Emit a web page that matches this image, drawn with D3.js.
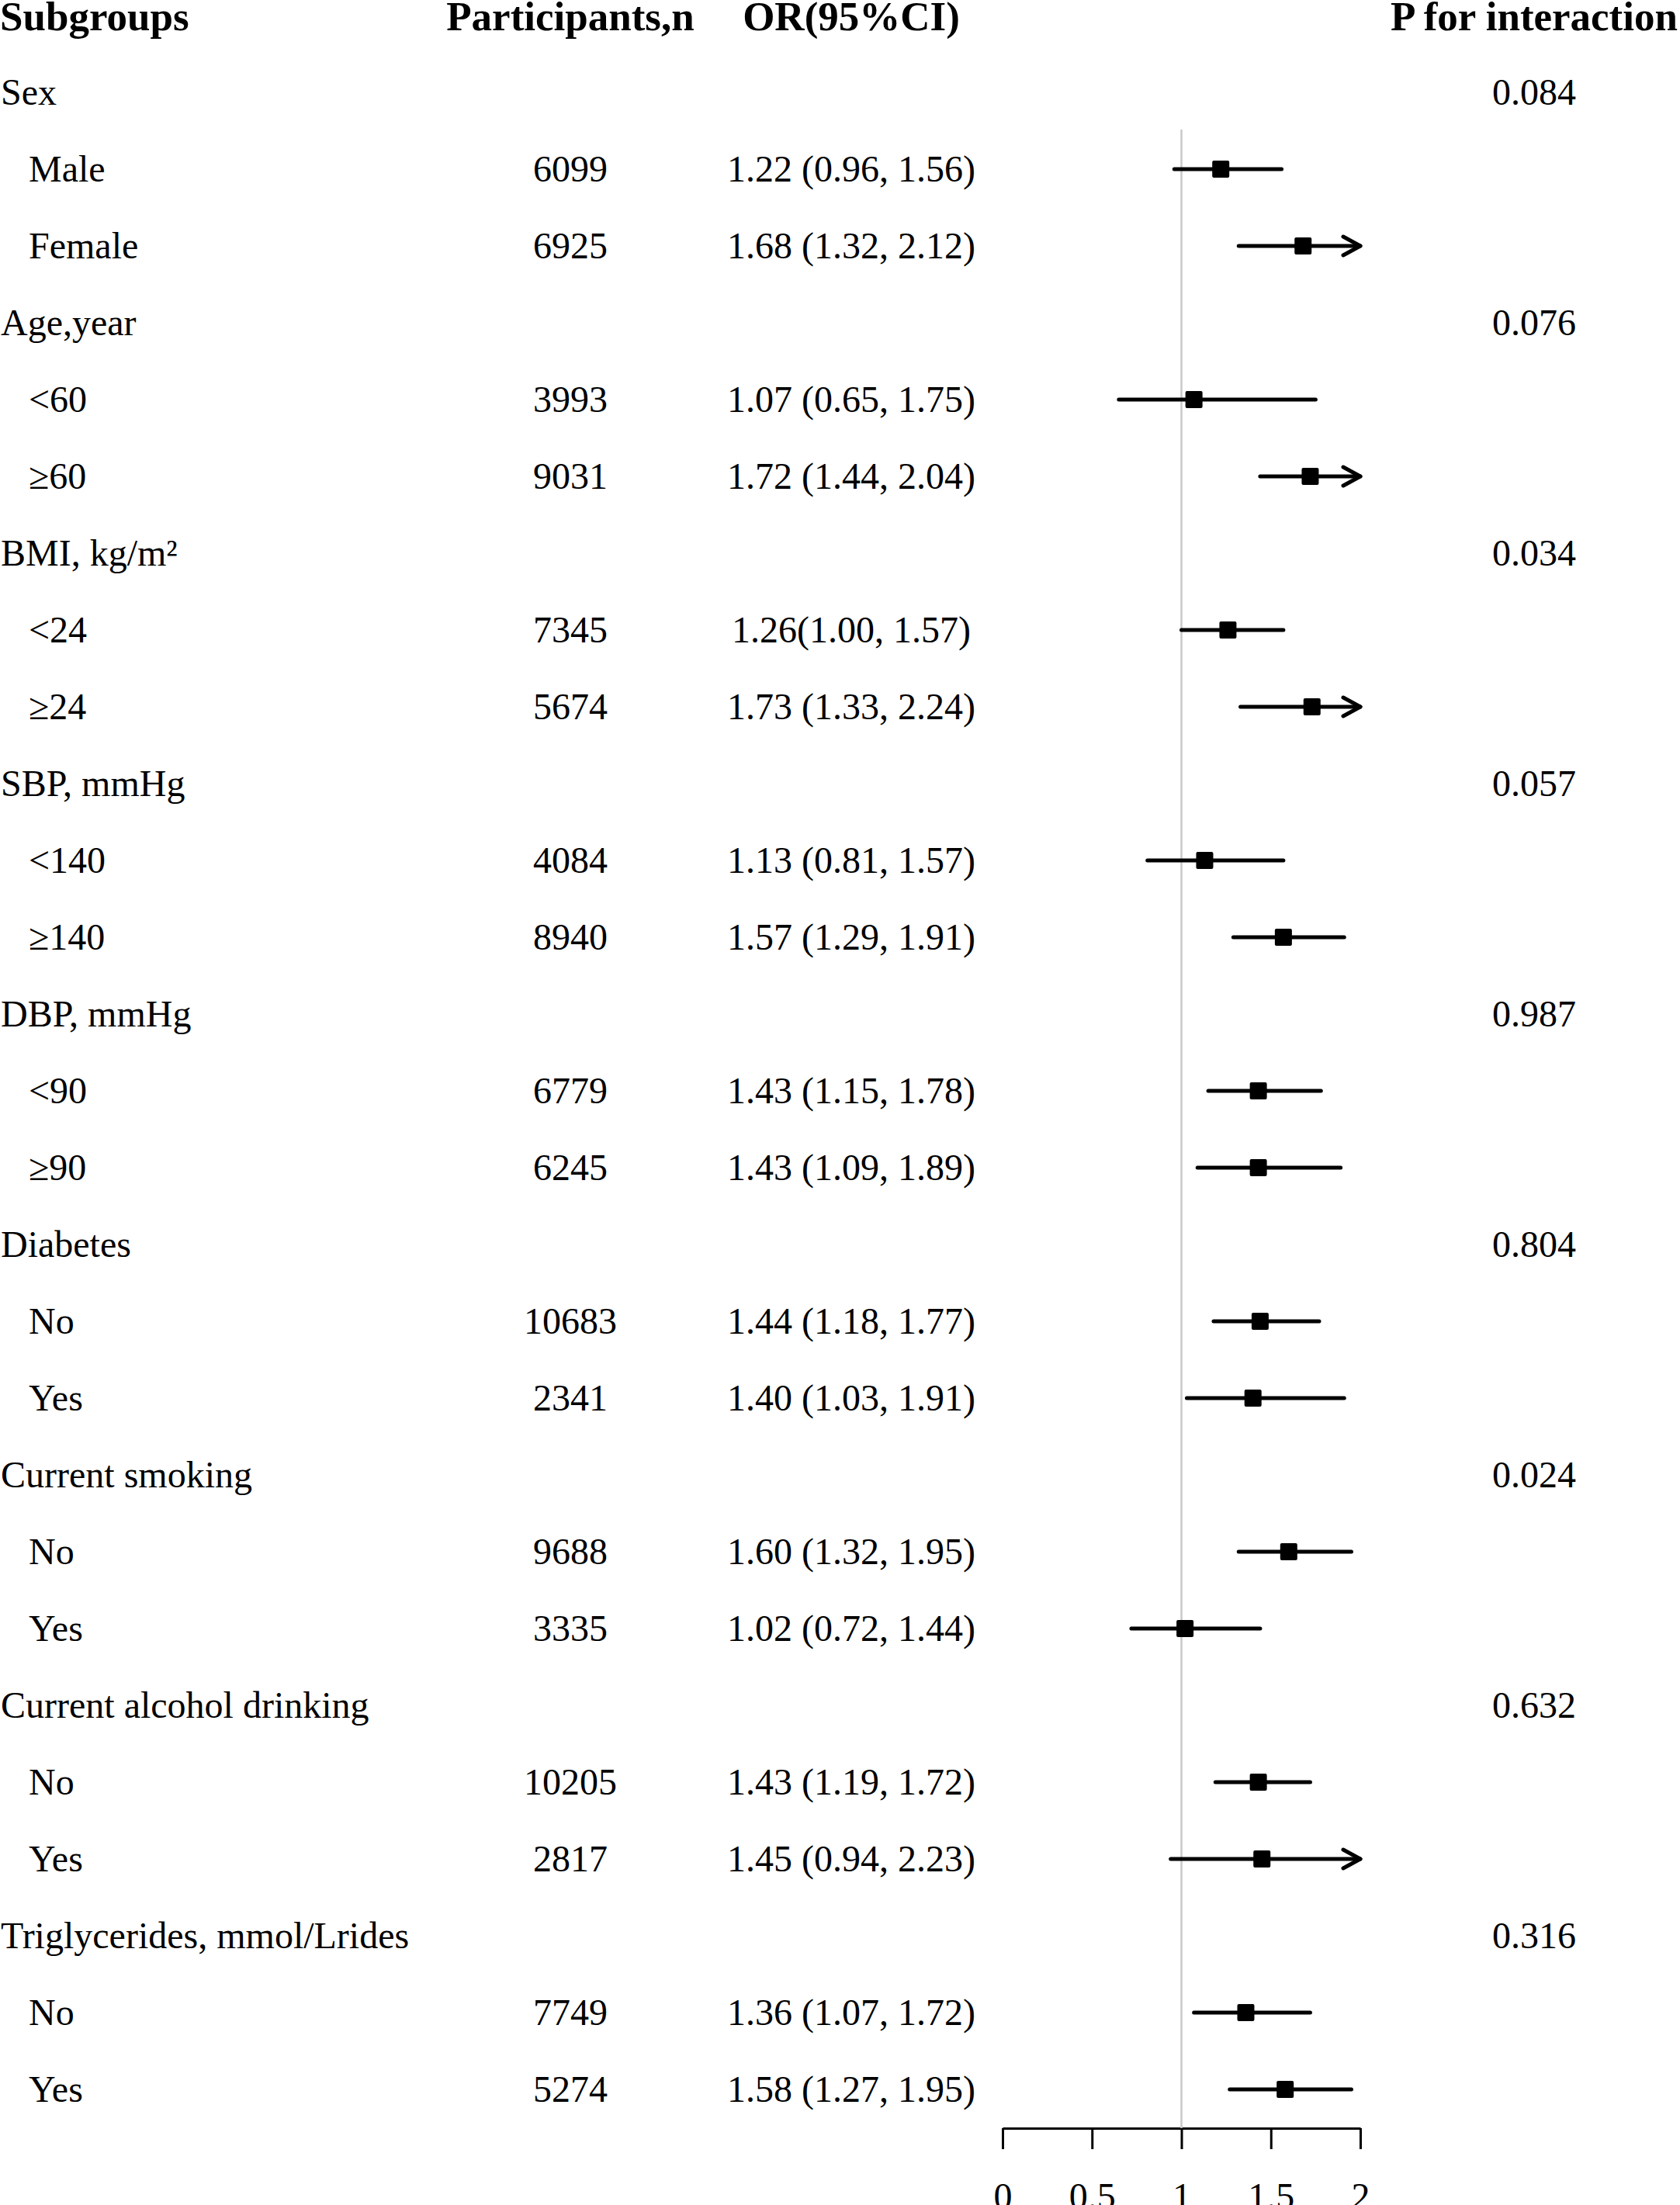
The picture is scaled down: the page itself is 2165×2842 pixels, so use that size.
<!DOCTYPE html>
<html>
<head>
<meta charset="utf-8">
<script src="https://cdn.jsdelivr.net/npm/d3@7"></script>
<style>
  html, body { margin: 0; padding: 0; background: #fff; }
  svg { display: block; }
  text { font-family: 'Liberation Serif', 'Times New Roman', serif; fill: #000; }
</style>
</head>
<body>
<div id="chart"></div>
<script>
// ── Subgroup forest plot ──
// Rows with a p-value are group headers, the rest are subgroups with an OR and CI.

const rowLabels = [
  'Sex', 'Male', 'Female',
  'Age,year', '<60', '≥60',
  'BMI, kg/m²', '<24', '≥24',
  'SBP, mmHg', '<140', '≥140',
  'DBP, mmHg', '<90', '≥90',
  'Diabetes', 'No', 'Yes',
  'Current smoking', 'No', 'Yes',
  'Current alcohol drinking', 'No', 'Yes',
  'Triglycerides, mmol/Lrides', 'No', 'Yes',
]

const participants = [
  null, 6099, 6925,
  null, 3993, 9031,
  null, 7345, 5674,
  null, 4084, 8940,
  null, 6779, 6245,
  null, 10683, 2341,
  null, 9688, 3335,
  null, 10205, 2817,
  null, 7749, 5274,
]

const orText = [
  null, '1.22 (0.96, 1.56)', '1.68 (1.32, 2.12)',
  null, '1.07 (0.65, 1.75)', '1.72 (1.44, 2.04)',
  null, '1.26(1.00, 1.57)', '1.73 (1.33, 2.24)',
  null, '1.13 (0.81, 1.57)', '1.57 (1.29, 1.91)',
  null, '1.43 (1.15, 1.78)', '1.43 (1.09, 1.89)',
  null, '1.44 (1.18, 1.77)', '1.40 (1.03, 1.91)',
  null, '1.60 (1.32, 1.95)', '1.02 (0.72, 1.44)',
  null, '1.43 (1.19, 1.72)', '1.45 (0.94, 2.23)',
  null, '1.36 (1.07, 1.72)', '1.58 (1.27, 1.95)',
]

const orEst = [
  null, 1.22, 1.68, null, 1.07, 1.72, null, 1.26, 1.73,
  null, 1.13, 1.57, null, 1.43, 1.43, null, 1.44, 1.40,
  null, 1.60, 1.02, null, 1.43, 1.45, null, 1.36, 1.58,
]
const ciLow = [
  null, 0.96, 1.32, null, 0.65, 1.44, null, 1.00, 1.33,
  null, 0.81, 1.29, null, 1.15, 1.09, null, 1.18, 1.03,
  null, 1.32, 0.72, null, 1.19, 0.94, null, 1.07, 1.27,
]
const ciHigh = [
  null, 1.56, 2.12, null, 1.75, 2.04, null, 1.57, 2.24,
  null, 1.57, 1.91, null, 1.78, 1.89, null, 1.77, 1.91,
  null, 1.95, 1.44, null, 1.72, 2.23, null, 1.72, 1.95,
]

const pInteraction = [
  '0.084', null, null, '0.076', null, null, '0.034', null, null,
  '0.057', null, null, '0.987', null, null, '0.804', null, null,
  '0.024', null, null, '0.632', null, null, '0.316', null, null,
]

const headers = ['Subgroups', 'Participants,n', 'OR(95%CI)', 'P for interaction']
const axisTicks = [0, 0.5, 1, 1.5, 2]

const width = 2165, height = 2842
const fontSize = 48
const colN = 735, colOR = 1097, colP = 1977

const rows = rowLabels.map((label, i) => ({
  i, label,
  group: pInteraction[i] !== null,
  n: participants[i], text: orText[i],
  est: orEst[i], lo: ciLow[i], hi: ciHigh[i], p: pInteraction[i],
}))

const svg = d3.select('#chart').append('svg')
  .attr('width', width)
  .attr('height', height)
  .attr('viewBox', `0 0 ${width} ${height}`)

// baselines of the text rows
const yBase = d3.scalePoint().domain(d3.range(rows.length)).range([135, 2709])
const yMark = i => yBase(i) - 16

const x = d3.scaleLinear().domain([0, 2]).range([1292, 1753])

// header row
svg.append('g').selectAll('text')
  .data(headers)
  .join('text')
  .attr('x', (d, i) => [0, colN, colOR, colP][i])
  .attr('y', 39)
  .attr('text-anchor', (d, i) => i === 0 ? 'start' : 'middle')
  .attr('font-size', 53)
  .attr('font-weight', 700)
  .text(d => d)

const body = svg.append('g').attr('font-size', fontSize)

body.selectAll('text.label')
  .data(rows)
  .join('text')
  .attr('class', 'label')
  .attr('x', d => d.group ? 1 : 37)
  .attr('y', d => yBase(d.i))
  .text(d => d.label)

body.selectAll('text.n')
  .data(rows.filter(d => d.n !== null))
  .join('text')
  .attr('class', 'n')
  .attr('x', colN)
  .attr('y', d => yBase(d.i))
  .attr('text-anchor', 'middle')
  .text(d => d.n)

body.selectAll('text.or')
  .data(rows.filter(d => d.text !== null))
  .join('text')
  .attr('class', 'or')
  .attr('x', colOR)
  .attr('y', d => yBase(d.i))
  .attr('text-anchor', 'middle')
  .text(d => d.text)

body.selectAll('text.p')
  .data(rows.filter(d => d.p !== null))
  .join('text')
  .attr('class', 'p')
  .attr('x', colP)
  .attr('y', d => yBase(d.i))
  .attr('text-anchor', 'middle')
  .text(d => d.p)

// axis
const axisY = 2743
const axis = svg.append('g')
  .attr('transform', `translate(0,${axisY})`)
  .call(d3.axisBottom(x)
    .tickValues(axisTicks)
    .tickFormat(d3.format('~g'))
    .tickSize(27)
    .tickSizeOuter(0)
    .tickPadding(43))
axis.select('.domain').attr('stroke', '#000').attr('stroke-width', 3)
axis.selectAll('.tick line').attr('stroke', '#000').attr('stroke-width', 3)
axis.selectAll('.tick text')
  .attr('font-size', fontSize)
  .attr('font-family', "'Liberation Serif', 'Times New Roman', serif")
  .attr('fill', '#000')

// reference line at OR = 1
svg.append('line')
  .attr('x1', x(1)).attr('x2', x(1))
  .attr('y1', 167).attr('y2', axisY)
  .attr('stroke', '#c8c8c8')
  .attr('stroke-width', 2.5)

// CI lines, arrows and squares
const est = rows.filter(d => d.est !== null)
const xMax = x.domain()[1]

const marks = svg.append('g')
marks.selectAll('line.ci')
  .data(est)
  .join('line')
  .attr('class', 'ci')
  .attr('x1', d => x(d.lo))
  .attr('x2', d => x(Math.min(d.hi, xMax)))
  .attr('y1', d => yMark(d.i))
  .attr('y2', d => yMark(d.i))
  .attr('stroke', '#000')
  .attr('stroke-width', 5)
  .attr('stroke-linecap', 'round')

marks.selectAll('path.arrow')
  .data(est.filter(d => d.hi > xMax))
  .join('path')
  .attr('class', 'arrow')
  .attr('d', d => {
    const tx = x(xMax), ty = yMark(d.i)
    return `M${tx - 22},${ty - 12}L${tx},${ty}L${tx - 22},${ty + 12}`
  })
  .attr('fill', 'none')
  .attr('stroke', '#000')
  .attr('stroke-width', 5)
  .attr('stroke-linecap', 'round')
  .attr('stroke-linejoin', 'round')

marks.selectAll('rect.pt')
  .data(est)
  .join('rect')
  .attr('class', 'pt')
  .attr('x', d => x(d.est) - 11)
  .attr('y', d => yMark(d.i) - 11)
  .attr('width', 22)
  .attr('height', 22)
  .attr('rx', 2)
  .attr('fill', '#000')
</script>
</body>
</html>
